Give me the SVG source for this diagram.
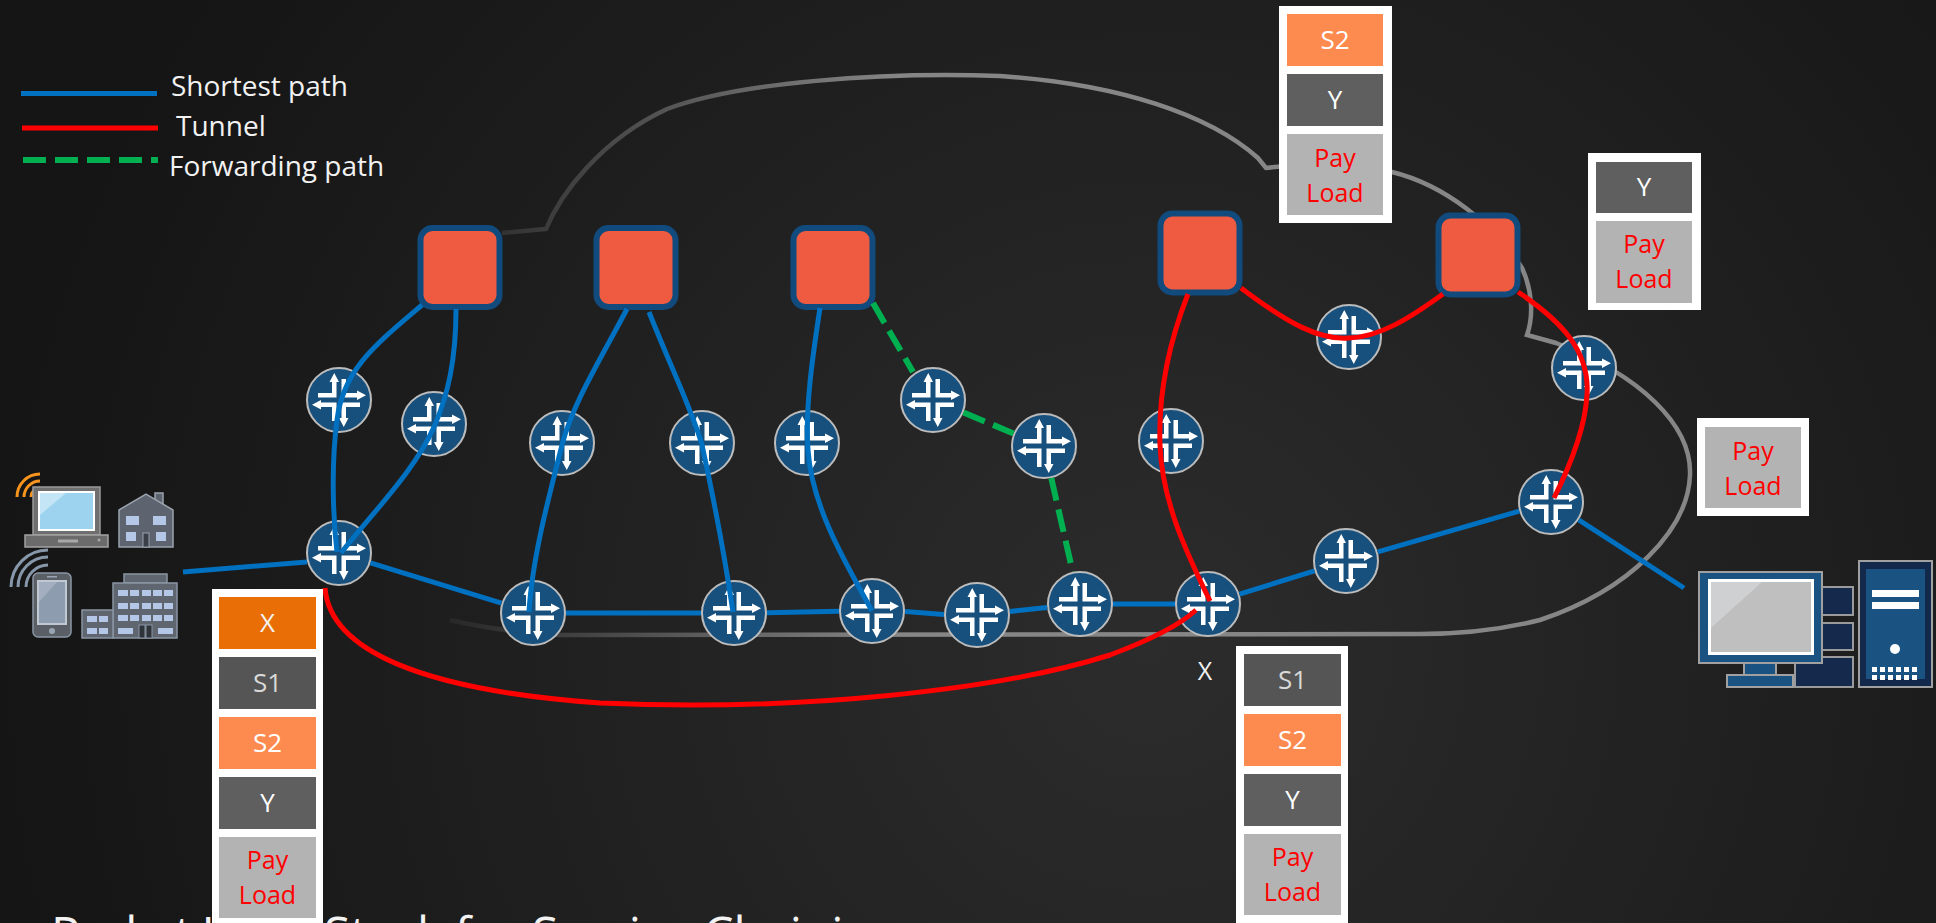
<svg xmlns="http://www.w3.org/2000/svg" xmlns:xlink="http://www.w3.org/1999/xlink" width="1936" height="923" viewBox="0 0 1936 923">
  <defs>
    <radialGradient id="bg" gradientUnits="userSpaceOnUse" cx="1150" cy="650" r="1150">
      <stop offset="0" stop-color="#2c2c2c"/>
      <stop offset="1" stop-color="#151515"/>
    </radialGradient>
    <linearGradient id="cloudStroke" gradientUnits="userSpaceOnUse" x1="440" y1="0" x2="900" y2="0">
      <stop offset="0" stop-color="#262626"/>
      <stop offset="0.35" stop-color="#474747"/>
      <stop offset="1" stop-color="#868686"/>
    </linearGradient>
    <!-- router glyph: blue disc with four offset arrows -->
    <path id="arm" d="M-2.5,-2.5 H-21 V-7 H-7 V-18 H-9.5 L-4.75,-27 L0,-18 H-2.5 Z" fill="#ffffff"/>
    <g id="rt">
      <circle r="32" fill="#17507d" stroke="#bcbcbc" stroke-width="2"/>
      <use href="#arm"/>
      <use href="#arm" transform="rotate(90)"/>
      <use href="#arm" transform="rotate(180)"/>
      <use href="#arm" transform="rotate(270)"/>
    </g>
    <style>
      .lbl { font-family: "Open Sans", "Liberation Sans", sans-serif; fill: #f2f2f2; }
      .cell-t { font-family: "Open Sans", "Liberation Sans", sans-serif; font-size: 26px; text-anchor: middle; }
      .pl { font-family: "Open Sans", "Liberation Sans", sans-serif; font-size: 25px; text-anchor: middle; fill: #ff0000; }
      .frame { fill: #ffffff; }
      .c-x { fill: #e86e05; }
      .c-s1 { fill: #555555; }
      .c-s2 { fill: #fd8a4f; }
      .c-y { fill: #5f5f5f; }
      .c-pl { fill: #b3b3b3; }
      .sf { fill: #ef5b40; stroke: #114b7d; stroke-width: 6; }
      .blue { fill: none; stroke: #0070c0; stroke-width: 5; stroke-linecap: butt; }
      .red { fill: none; stroke: #ff0000; stroke-width: 5; }
      .green { fill: none; stroke: #00b050; stroke-width: 6; stroke-dasharray: 23 9; }
      .win { fill: #b4c7e7; }
    </style>
  </defs>

  <rect x="0" y="0" width="1936" height="923" fill="url(#bg)"/>

  <!-- network cloud outline -->
  <path id="cloud" d="M502,233 L546,229 C560,195 600,140 667,109 C740,82 880,72 1000,76 C1120,84 1210,115 1258,158 L1266,168 L1285,166 L1392,172 C1445,185 1495,225 1522,268 C1532,290 1534,315 1527,335 L1556,343 C1640,375 1692,425 1690,475 C1688,530 1630,590 1540,620 C1500,630 1460,634 1420,634 L561,635 C520,633 480,627 450,620" fill="none" stroke="url(#cloudStroke)" stroke-width="4.5"/>

  <!-- legend -->
  <g id="legend">
    <line x1="21" y1="93.5" x2="157" y2="93.5" stroke="#0070c0" stroke-width="5"/>
    <line x1="22" y1="128" x2="158" y2="128" stroke="#ff0000" stroke-width="5"/>
    <line x1="23" y1="160" x2="158" y2="160" stroke="#00b050" stroke-width="6" stroke-dasharray="23 9"/>
    <text class="lbl" x="171" y="96" font-size="28">Shortest path</text>
    <text class="lbl" x="176" y="136" font-size="28">Tunnel</text>
    <text class="lbl" x="169" y="176" font-size="28">Forwarding path</text>
  </g>

  <!-- subscribers -->
  <g id="subscribers">
    <g fill="none" stroke="#f7941d" stroke-width="3">
      <path d="M31,497 A9,9 0 0 1 40,488"/>
      <path d="M24,497 A16,16 0 0 1 40,481"/>
      <path d="M17,497 A23,23 0 0 1 40,474"/>
    </g>
    <g fill="none" stroke="#8797aa" stroke-width="3">
      <path d="M26,587 A22,22 0 0 1 48,565"/>
      <path d="M18,587 A30,30 0 0 1 48,557"/>
      <path d="M11,587 A37,37 0 0 1 48,550"/>
    </g>
    <!-- laptop -->
    <rect x="33" y="487" width="67" height="48" fill="#6f6f6f" stroke="#9a9a9a" stroke-width="1.5"/>
    <rect x="38" y="491" width="57" height="40" fill="#ffffff"/>
    <rect x="40" y="493" width="53" height="36" fill="#9dd3ee"/>
    <polygon points="40,493 66,493 40,515" fill="#c3e5f6"/>
    <rect x="25" y="535" width="83" height="12" fill="#6b6b6b" stroke="#a3a3a3" stroke-width="1.5"/>
    <rect x="58" y="539.5" width="20" height="3" fill="#a8a8a8"/>
    <circle cx="99" cy="540" r="1.5" fill="#a8a8a8"/>
    <!-- house -->
    <rect x="155" y="493" width="8" height="12" fill="#5d6470" stroke="#9aa2ad" stroke-width="1.5"/>
    <polygon points="119,510 146,494 173,510 173,547 119,547" fill="#5d6470" stroke="#9aa2ad" stroke-width="1.5"/>
    <rect class="win" x="126" y="516" width="13" height="9"/>
    <rect class="win" x="153" y="516" width="13" height="9"/>
    <rect class="win" x="126" y="532" width="10" height="9"/>
    <rect class="win" x="156" y="532" width="10" height="9"/>
    <rect x="143" y="533" width="6" height="14" fill="#3a3f48" stroke="#9aa2ad" stroke-width="1"/>
    <!-- phone -->
    <rect x="33" y="573" width="38" height="64" rx="5" fill="#5a5f66" stroke="#8a96a5" stroke-width="1.5"/>
    <rect x="37" y="580" width="30" height="45" fill="#c0c8d2"/>
    <rect x="39" y="582" width="26" height="41" fill="#8e9cb0"/>
    <polygon points="39,582 57,582 39,602" fill="#a3afc0"/>
    <rect x="47" y="576" width="10" height="1.5" fill="#9aa5b3"/>
    <circle cx="52" cy="631" r="3" fill="#9aa5b3"/>
    <!-- office building -->
    <rect x="124" y="574" width="43" height="9" fill="#5f6670" stroke="#8a95a3" stroke-width="1.5"/>
    <rect x="113" y="583" width="64" height="55" fill="#5f6670" stroke="#8a95a3" stroke-width="1.5"/>
    <rect x="82" y="610" width="31" height="28" fill="#5f6670" stroke="#8a95a3" stroke-width="1.5"/>
    <g class="win">
      <rect x="118" y="590" width="10" height="6"/><rect x="130" y="590" width="9" height="6"/><rect x="142" y="590" width="9" height="6"/><rect x="153" y="590" width="9" height="6"/><rect x="164" y="590" width="9" height="6"/>
      <rect x="118" y="603" width="10" height="6"/><rect x="130" y="603" width="9" height="6"/><rect x="142" y="603" width="9" height="6"/><rect x="153" y="603" width="9" height="6"/><rect x="164" y="603" width="9" height="6"/>
      <rect x="118" y="615" width="10" height="6"/><rect x="130" y="615" width="9" height="6"/><rect x="142" y="615" width="9" height="6"/><rect x="153" y="615" width="9" height="6"/><rect x="164" y="615" width="9" height="6"/>
      <rect x="118" y="628" width="15" height="6"/><rect x="158" y="628" width="15" height="6"/>
      <rect x="87" y="616" width="10" height="6"/><rect x="99" y="616" width="9" height="6"/>
      <rect x="87" y="628" width="10" height="6"/><rect x="99" y="628" width="9" height="6"/>
    </g>
    <rect x="139" y="625" width="6" height="13" fill="#2f343b" stroke="#8a95a3" stroke-width="1"/>
    <rect x="146" y="625" width="6" height="13" fill="#2f343b" stroke="#8a95a3" stroke-width="1"/>
  </g>

  <!-- destination host -->
  <g id="host">
    <rect x="1822" y="587" width="31" height="28" fill="#14294b" stroke="#9a9a9a" stroke-width="2"/>
    <rect x="1822" y="623" width="31" height="27" fill="#14294b" stroke="#9a9a9a" stroke-width="2"/>
    <rect x="1795" y="657" width="58" height="30" fill="#14294b" stroke="#9a9a9a" stroke-width="2"/>
    <rect x="1699" y="572" width="123" height="91" fill="#1a5381" stroke="#a0a0a0" stroke-width="2"/>
    <rect x="1708" y="579" width="106" height="76" fill="#ffffff"/>
    <rect x="1711" y="582" width="100" height="70" fill="#bfbfbf"/>
    <polygon points="1711,582 1762,582 1711,628" fill="#cfd0d2"/>
    <rect x="1744" y="663" width="32" height="13" fill="#1a5381" stroke="#a0a0a0" stroke-width="2"/>
    <rect x="1727" y="675" width="66" height="12" fill="#1a5381" stroke="#a0a0a0" stroke-width="2"/>
    <rect x="1859" y="561" width="73" height="126" fill="#13294b" stroke="#a0a0a0" stroke-width="2"/>
    <rect x="1866" y="569" width="59" height="110" fill="#1a5381"/>
    <rect x="1872" y="590" width="47" height="7" fill="#ffffff"/>
    <rect x="1872" y="602" width="47" height="7" fill="#ffffff"/>
    <circle cx="1895" cy="649" r="5" fill="#ffffff"/>
    <g fill="#ffffff">
      <rect x="1872" y="667" width="5" height="5"/><rect x="1880" y="667" width="5" height="5"/><rect x="1888" y="667" width="5" height="5"/><rect x="1896" y="667" width="5" height="5"/><rect x="1904" y="667" width="5" height="5"/><rect x="1912" y="667" width="5" height="5"/>
      <rect x="1872" y="675" width="5" height="5"/><rect x="1880" y="675" width="5" height="5"/><rect x="1888" y="675" width="5" height="5"/><rect x="1896" y="675" width="5" height="5"/><rect x="1904" y="675" width="5" height="5"/><rect x="1912" y="675" width="5" height="5"/>
    </g>
  </g>

  <!-- service function nodes -->
  <g id="sf1"><rect class="sf" x="420.5" y="228" width="79" height="79" rx="12"/></g>
  <g id="sf2"><rect class="sf" x="596.5" y="228" width="79" height="79" rx="12"/></g>
  <g id="sf3"><rect class="sf" x="793.5" y="228" width="79" height="79" rx="12"/></g>
  <g id="sf4"><rect class="sf" x="1160.5" y="213.5" width="79" height="79" rx="12"/></g>
  <g id="sf5"><rect class="sf" x="1438.5" y="215.5" width="79" height="79" rx="12"/></g>

  <!-- routers -->
  <g id="r1"><use href="#rt" transform="translate(339,400)"/></g>
  <g id="r2"><use href="#rt" transform="translate(434,424)"/></g>
  <g id="r3"><use href="#rt" transform="translate(562,443)"/></g>
  <g id="r4"><use href="#rt" transform="translate(702,443)"/></g>
  <g id="r5"><use href="#rt" transform="translate(807,443)"/></g>
  <g id="r6"><use href="#rt" transform="translate(933,400)"/></g>
  <g id="r7"><use href="#rt" transform="translate(1044,446)"/></g>
  <g id="r8"><use href="#rt" transform="translate(1171,441)"/></g>
  <g id="r9"><use href="#rt" transform="translate(1349,337)"/></g>
  <g id="r10"><use href="#rt" transform="translate(1584,368)"/></g>
  <g id="r11"><use href="#rt" transform="translate(1551,502)"/></g>
  <g id="r12"><use href="#rt" transform="translate(1346,561)"/></g>
  <g id="r13"><use href="#rt" transform="translate(1208,604)"/></g>
  <g id="r14"><use href="#rt" transform="translate(1080,604)"/></g>
  <g id="r15"><use href="#rt" transform="translate(977,615)"/></g>
  <g id="r16"><use href="#rt" transform="translate(872,611)"/></g>
  <g id="r17"><use href="#rt" transform="translate(734,613)"/></g>
  <g id="r18"><use href="#rt" transform="translate(533,613)"/></g>
  <g id="r19"><use href="#rt" transform="translate(339,553)"/></g>

  <!-- links -->
  <g id="connectors">
    <!-- shortest path, edge to edge along the bottom -->
    <line class="blue" x1="183" y1="572" x2="307" y2="562"/>
    <line class="blue" x1="370.5" y1="562.8" x2="501.5" y2="603.2"/>
    <line class="blue" x1="566" y1="613" x2="701" y2="613"/>
    <line class="blue" x1="767" y1="612.8" x2="839" y2="611.2"/>
    <line class="blue" x1="905" y1="611.5" x2="944" y2="614.5"/>
    <line class="blue" x1="1009.8" y1="611.5" x2="1047.2" y2="607.5"/>
    <line class="blue" x1="1113" y1="604" x2="1175" y2="604"/>
    <line class="blue" x1="1239.5" y1="594.2" x2="1314.5" y2="570.8"/>
    <line class="blue" x1="1377.7" y1="551.9" x2="1519.3" y2="511.1"/>
    <line class="blue" x1="1578.7" y1="519.9" x2="1684" y2="588"/>
    <!-- shortest path, service nodes down through the routers -->
    <path class="blue" d="M422,305 C375,345 343,370 337,420 C331,465 333,518 337,552"/>
    <path class="blue" d="M456,309 C456,360 448,395 434,427 C415,470 375,510 341,553"/>
    <path class="blue" d="M627,309 C600,360 572,405 562,445 C548,500 532,560 529,612"/>
    <path class="blue" d="M649,312 C672,370 692,410 702,445 C714,500 726,565 733,612"/>
    <path class="blue" d="M820,308 C812,360 805,410 808,450 C812,510 850,570 872,611"/>
    <!-- forwarding path -->
    <line class="green" x1="873" y1="303" x2="913" y2="372"/>
    <line class="green" x1="963.5" y1="412.6" x2="1013.5" y2="433.4"/>
    <line class="green" x1="1051.3" y1="478.2" x2="1072.7" y2="571.8"/>
    <!-- tunnels -->
    <path class="red" d="M325,588 C330,650 420,690 600,703 C800,712 1000,690 1110,655 C1150,640 1180,625 1196,610"/>
    <path class="red" d="M1188,294 C1170,340 1158,390 1160,445 C1162,500 1185,550 1210,601"/>
    <path class="red" d="M1241,288 C1290,325 1320,340 1349,338 C1380,337 1410,318 1443,294"/>
    <path class="red" d="M1518,292 C1560,320 1590,350 1587,395 C1585,430 1568,470 1554,498"/>
  </g>

  <!-- caption, running off the bottom edge -->
  <text class="lbl" y="951" font-size="48"><tspan x="51" letter-spacing="-1.4">Packet Label</tspan><tspan x="324">Stack for Service Chaining</tspan></text>

  <!-- label stacks -->
  <g id="stack-ingress">
    <rect class="frame" x="212" y="589" width="111" height="360"/>
    <rect class="c-x" x="219" y="597" width="97" height="52"/>
    <rect class="c-s1" x="219" y="657" width="97" height="52"/>
    <rect class="c-s2" x="219" y="717" width="97" height="52"/>
    <rect class="c-y" x="219" y="777" width="97" height="52"/>
    <rect class="c-pl" x="219" y="837" width="97" height="81"/>
    <text class="cell-t" x="267.5" y="632" fill="#f2f2f2">X</text>
    <text class="cell-t" x="267.5" y="692" fill="#d9d9d9">S1</text>
    <text class="cell-t" x="267.5" y="752" fill="#ffffff">S2</text>
    <text class="cell-t" x="267.5" y="812" fill="#ffffff">Y</text>
    <text class="pl" x="267.5" y="869">Pay</text>
    <text class="pl" x="267.5" y="904">Load</text>
  </g>

  <g id="stack-x">
    <rect class="frame" x="1236" y="646" width="112" height="300"/>
    <rect class="c-s1" x="1244" y="654" width="97" height="52"/>
    <rect class="c-s2" x="1244" y="714" width="97" height="52"/>
    <rect class="c-y" x="1244" y="774" width="97" height="52"/>
    <rect class="c-pl" x="1244" y="834" width="97" height="81"/>
    <text class="cell-t" x="1292.5" y="689" fill="#d9d9d9">S1</text>
    <text class="cell-t" x="1292.5" y="749" fill="#ffffff">S2</text>
    <text class="cell-t" x="1292.5" y="809" fill="#ffffff">Y</text>
    <text class="pl" x="1292.5" y="866">Pay</text>
    <text class="pl" x="1292.5" y="901">Load</text>
  </g>
  <text id="x-label" class="lbl" x="1205" y="680" font-size="25" text-anchor="middle">X</text>

  <g id="stack-s2">
    <rect class="frame" x="1279" y="6" width="113" height="217"/>
    <rect class="c-s2" x="1287" y="14" width="96" height="52"/>
    <rect class="c-y" x="1287" y="74" width="96" height="52"/>
    <rect class="c-pl" x="1287" y="134" width="96" height="81"/>
    <text class="cell-t" x="1335" y="49" fill="#ffffff">S2</text>
    <text class="cell-t" x="1335" y="109" fill="#ffffff">Y</text>
    <text class="pl" x="1335" y="167">Pay</text>
    <text class="pl" x="1335" y="202">Load</text>
  </g>

  <g id="stack-y">
    <rect class="frame" x="1588" y="153" width="113" height="157"/>
    <rect class="c-y" x="1596" y="162" width="96" height="51"/>
    <rect class="c-pl" x="1596" y="221" width="96" height="82"/>
    <text class="cell-t" x="1644" y="196" fill="#ffffff">Y</text>
    <text class="pl" x="1644" y="253">Pay</text>
    <text class="pl" x="1644" y="288">Load</text>
  </g>

  <g id="stack-payload">
    <rect class="frame" x="1697" y="418" width="112" height="98"/>
    <rect class="c-pl" x="1705" y="427" width="96" height="81"/>
    <text class="pl" x="1753" y="460">Pay</text>
    <text class="pl" x="1753" y="495">Load</text>
  </g>
</svg>
